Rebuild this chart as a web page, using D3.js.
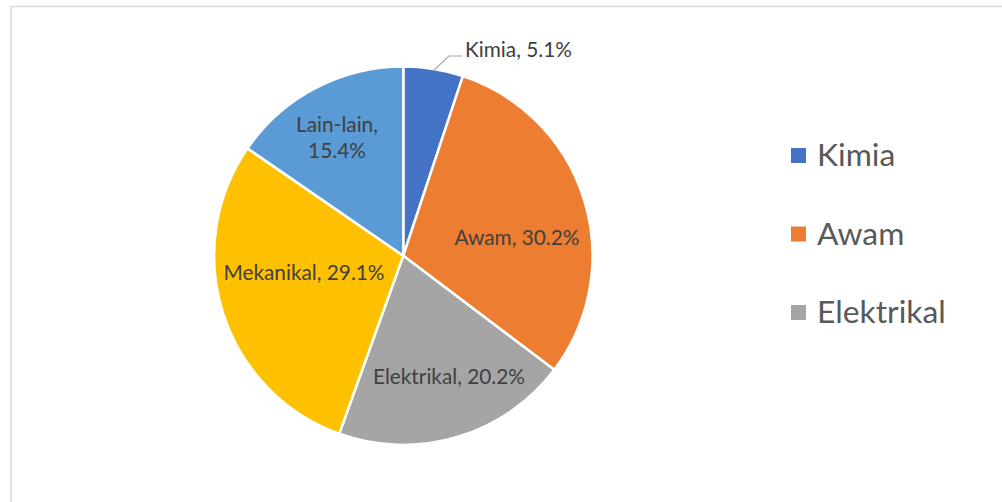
<!DOCTYPE html>
<html>
<head>
<meta charset="utf-8">
<script src="https://cdn.jsdelivr.net/npm/d3@7"></script>
<style>
  html, body { margin: 0; padding: 0; background: #fff; }
  svg { display: block; }
  text { font-family: Lato, "Open Sans", sans-serif; }
</style>
</head>
<body>
<svg id="chart" width="1002" height="502"></svg>
<script>
const categories = ["Kimia", "Awam", "Elektrikal", "Mekanikal", "Lain-lain"];
const values = [5.1, 30.2, 20.2, 29.1, 15.4];
const colors = ["#4472C4", "#ED7D31", "#A5A5A5", "#FFC000", "#5B9BD5"];
const legendItems = ["Kimia", "Awam", "Elektrikal"];

const svg = d3.select("#chart");

// chart area border
svg.append("rect")
  .attr("x", 11).attr("y", 6.5)
  .attr("width", 1100).attr("height", 600)
  .attr("fill", "none").attr("stroke", "#d9d9d9").attr("stroke-width", 1.5);

const cx = 403.3, cy = 255.7, r = 189.2;
const data = categories.map((c, i) => ({ name: c, value: values[i], color: colors[i] }));

const pie = d3.pie().value(d => d.value).sort(null);
const arcs = pie(data);
const arc = d3.arc().innerRadius(0).outerRadius(r);

const g = svg.append("g").attr("transform", `translate(${cx},${cy})`);
g.selectAll("path.slice").data(arcs).enter().append("path")
  .attr("class", "slice")
  .attr("d", arc)
  .attr("fill", d => d.data.color)
  .attr("stroke", "#fff").attr("stroke-width", 2.5)
  .attr("stroke-linejoin", "round");

const fmt = d => `${d.data.name}, ${d.data.value.toFixed(1)}%`;
const labelPos = {
  "Awam": [517, 236],
  "Elektrikal": [449, 375],
  "Mekanikal": [304, 271],
};
const labelFont = 20.8;
arcs.forEach(d => {
  const n = d.data.name;
  if (labelPos[n]) {
    svg.append("text")
      .attr("x", labelPos[n][0]).attr("y", labelPos[n][1])
      .attr("text-anchor", "middle").attr("dominant-baseline", "central")
      .attr("font-size", labelFont).attr("fill", "#404040")
      .text(fmt(d));
  }
});
// Lain-lain two lines
const lain = arcs[4];
const lt = svg.append("text")
  .attr("text-anchor", "middle").attr("font-size", labelFont).attr("fill", "#404040");
lt.append("tspan").attr("x", 337).attr("y", 132).text(lain.data.name + ",");
lt.append("tspan").attr("x", 337).attr("y", 158).text(lain.data.value.toFixed(1) + "%");

// Kimia outside label with leader
const kimia = arcs[0];
const ka = (kimia.startAngle + kimia.endAngle) / 2;
const p0 = [cx + Math.sin(ka) * (r - 2), cy - Math.cos(ka) * (r - 2)];
svg.append("polyline")
  .attr("points", `${p0[0]},${p0[1]} 449,56 462,56`)
  .attr("fill", "none").attr("stroke", "#a6a6a6").attr("stroke-width", 1.2);
svg.append("text")
  .attr("x", 465).attr("y", 57)
  .attr("font-size", labelFont).attr("fill", "#404040")
  .text(fmt(kimia));

// legend
const legendY = d3.scalePoint().domain(legendItems).range([155, 312]);
const lg = svg.append("g");
legendItems.forEach((name, i) => {
  const y = legendY(name);
  lg.append("rect")
    .attr("x", 791).attr("y", y - 7)
    .attr("width", 15).attr("height", 15)
    .attr("fill", colors[categories.indexOf(name)]);
  lg.append("text")
    .attr("x", 817).attr("y", y + 11)
    .attr("font-size", 31.8).attr("fill", "#595959")
    .text(name);
});
</script>
</body>
</html>
